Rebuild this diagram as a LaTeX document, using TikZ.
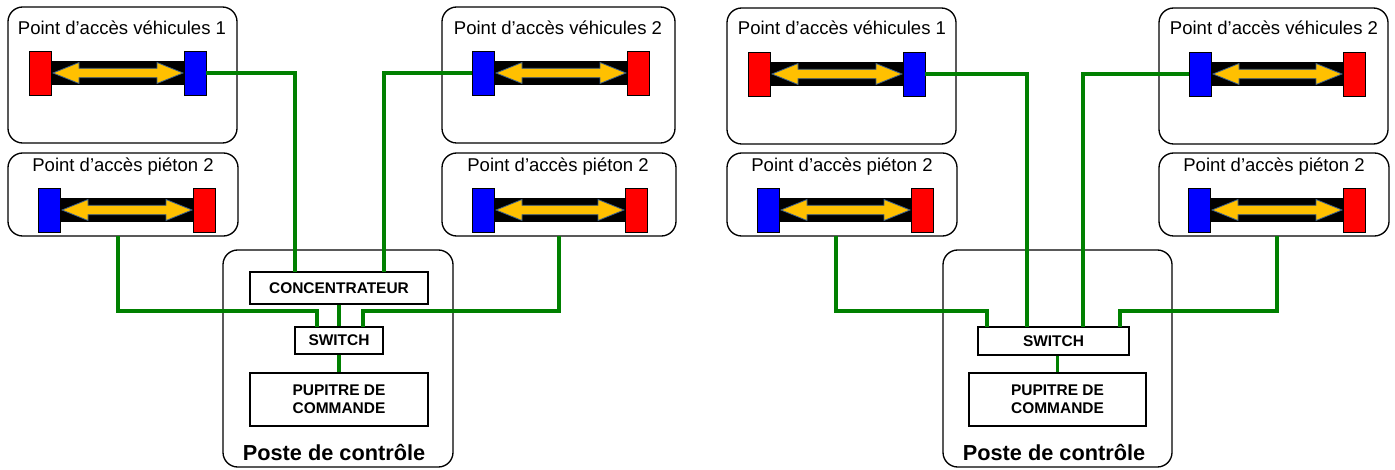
\documentclass[tikz,border=0pt]{standalone}
\usepackage{fontspec}
\setmainfont{Liberation Sans}
\usetikzlibrary{fit}
\definecolor{wiregreen}{RGB}{0,128,0}
\definecolor{arrowyellow}{RGB}{255,192,0}
\definecolor{arrowedge}{RGB}{56,93,138}
\tikzset{
  zone/.style={draw, line width=1pt, rounded corners=11pt, inner sep=0pt},
  plainbox/.style={draw, line width=0.9pt, inner sep=0pt},
  endred/.style={draw, line width=0.6pt, fill=red, inner sep=0pt},
  endblue/.style={draw, line width=0.6pt, fill=blue, inner sep=0pt},
  wire/.style={draw=wiregreen, line width=2.3pt},
  titletxt/.style={anchor=base, font=\fontsize{13.9}{16}\selectfont, inner sep=0pt},
  boxtxt/.style={align=center, font=\fontsize{11.6}{13.5}\selectfont\bfseries, inner sep=0pt},
  postetxt/.style={anchor=base, font=\fontsize{16.3}{19}\selectfont\bfseries, inner sep=0pt}
}
% #1 name, #2 left end x, #3 right end x, #4 top y, #5 left style, #6 right style
\newcommand\accesslink[6]{%
  \fill[black] ({#2+22},{#4+10}) rectangle (#3,{#4+34});
  \draw[fill=arrowyellow, draw=arrowedge, line width=0.6pt, line join=miter]
    ({#2+24},{#4+22}) -- ({#2+50},{#4+11.5}) -- ({#2+50},{#4+17.3})
    -- ({#3-27},{#4+17.3}) -- ({#3-27},{#4+11.5}) -- ({#3-1},{#4+22})
    -- ({#3-27},{#4+32.5}) -- ({#3-27},{#4+26.7}) -- ({#2+50},{#4+26.7})
    -- ({#2+50},{#4+32.5}) -- cycle;
  \node[#5, fit={(#2,#4)({#2+22},{#4+44})}] (#1l) {};
  \node[#6, fit={(#3,#4)({#3+22},{#4+44})}] (#1r) {};
}
\begin{document}
\begin{tikzpicture}[x=0.75pt,y=-0.75pt]
\useasboundingbox (0,0) rectangle (1395,470);

% ================= LEFT DIAGRAM =================
\node[zone, fit={(8,7)(237,143)}] (LV1) {};
\node[titletxt] (LV1t) at (122,35) {Point d’accès véhicules 1};
\accesslink{LV1}{29}{184}{51}{endred}{endblue}

\node[zone, fit={(8,153)(238,236)}] (LP1) {};
\node[titletxt] (LP1t) at (123,172) {Point d’accès piéton 2};
\accesslink{LP1}{38}{193}{188}{endblue}{endred}

\node[zone, fit={(442,7)(675,143)}] (LV2) {};
\node[titletxt] (LV2t) at (558,35) {Point d’accès véhicules 2};
\accesslink{LV2}{472}{627}{51}{endblue}{endred}

\node[zone, fit={(442,153)(676,236)}] (LP2) {};
\node[titletxt] (LP2t) at (558,172) {Point d’accès piéton 2};
\accesslink{LP2}{472}{625}{188}{endblue}{endred}

\node[zone, fit={(223,250)(453,467)}] (LC) {};
\node[postetxt] (LCt) at (334,460) {Poste de contrôle};
\node[plainbox, fill=white, fit={(250,272)(428,304)}] (LConc) {};
\node[boxtxt] (LConct) at (LConc.center) {CONCENTRATEUR};
\node[plainbox, fill=white, fit={(295,327)(383,354)}] (LSw) {};
\node[boxtxt] (LSwt) at (LSw.center) {SWITCH};
\node[plainbox, fill=white, fit={(250,373)(428,426)}] (LPup) {};
\node[boxtxt] (LPupt) at (LPup.center) {PUPITRE DE\\COMMANDE};

\coordinate (LP1o) at (118,236);
\coordinate (LP2o) at (559,236);
\coordinate (LConcA) at (295,272);
\coordinate (LConcB) at (384,272);
\coordinate (LSwA) at (317,327);
\coordinate (LSwC) at (363,327);

\draw[wire] (LV1r.east) -| (LConcA);
\draw[wire] (LConcB) |- (LV2l.west);
\draw[wire] (LP1o) -- (118,311) -| (LSwA);
\draw[wire] (LConc.south -| LSw.north) -- (LSw.north);
\draw[wire] (LSwC) -- (363,311) -| (LP2o);
\draw[wire] (LSw.south) -- (LPup.north);

% ================= RIGHT DIAGRAM =================
\node[zone, fit={(727,8)(956,144)}] (RV1) {};
\node[titletxt] (RV1t) at (842,35) {Point d’accès véhicules 1};
\accesslink{RV1}{748}{903}{52}{endred}{endblue}

\node[zone, fit={(727,153)(957,236)}] (RP1) {};
\node[titletxt] (RP1t) at (842,172) {Point d’accès piéton 2};
\accesslink{RP1}{757}{911}{188}{endblue}{endred}

\node[zone, fit={(1159,8)(1388,144)}] (RV2) {};
\node[titletxt] (RV2t) at (1274,35) {Point d’accès véhicules 2};
\accesslink{RV2}{1189}{1343}{52}{endblue}{endred}

\node[zone, fit={(1159,153)(1389,236)}] (RP2) {};
\node[titletxt] (RP2t) at (1274,172) {Point d’accès piéton 2};
\accesslink{RP2}{1188}{1343}{188}{endblue}{endred}

\node[zone, fit={(943,250)(1172,467)}] (RC) {};
\node[postetxt] (RCt) at (1054,460) {Poste de contrôle};
\node[plainbox, fill=white, fit={(978,327)(1129,355)}] (RSw) {};
\node[boxtxt] (RSwt) at (RSw.center) {SWITCH};
\node[plainbox, fill=white, fit={(969,373)(1146,426)}] (RPup) {};
\node[boxtxt] (RPupt) at (RPup.center) {PUPITRE DE\\COMMANDE};

\coordinate (RP1o) at (836,236);
\coordinate (RP2o) at (1277,236);
\coordinate (RSwA) at (987,327);
\coordinate (RSwB) at (1027,327);
\coordinate (RSwC) at (1083,327);
\coordinate (RSwD) at (1120,327);

\draw[wire] (RV1r.east) -| (RSwB);
\draw[wire] (RSwC) |- (RV2l.west);
\draw[wire] (RP1o) -- (836,311) -| (RSwA);
\draw[wire] (RSwD) -- (1120,311) -| (RP2o);
\draw[wire] (RSw.south -| RPup.north) -- (RPup.north);
\end{tikzpicture}
\end{document}
